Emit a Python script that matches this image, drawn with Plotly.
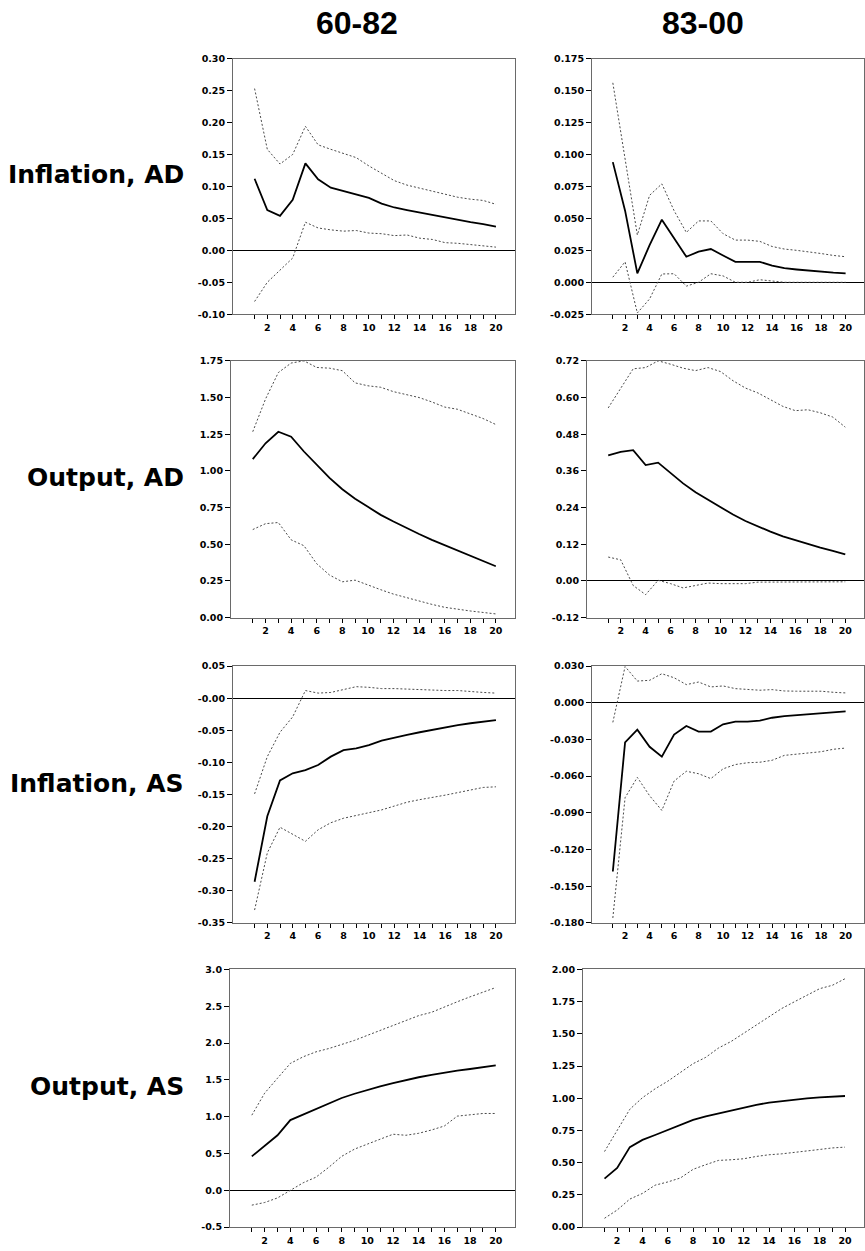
import plotly.graph_objects as go

# ---------------- data ----------------
horizon = list(range(1, 21))

# Inflation, AD
inf_ad_6082_mid = [0.112, 0.063, 0.054, 0.079, 0.136, 0.111, 0.098, 0.093, 0.088, 0.082,
                   0.073, 0.067, 0.063, 0.059, 0.055, 0.051, 0.048, 0.044, 0.041, 0.037]
inf_ad_6082_up = [0.253, 0.158, 0.135, 0.150, 0.194, 0.165, 0.158, 0.152, 0.145, 0.132,
                  0.121, 0.109, 0.102, 0.097, 0.092, 0.087, 0.083, 0.080, 0.078, 0.072]
inf_ad_6082_lo = [-0.080, -0.050, -0.031, -0.012, 0.044, 0.035, 0.032, 0.030, 0.031, 0.027,
                  0.026, 0.023, 0.024, 0.019, 0.017, 0.012, 0.011, 0.009, 0.008, 0.005]

inf_ad_8300_mid = [0.094, 0.056, 0.007, 0.029, 0.049, 0.035, 0.020, 0.024, 0.026, 0.021,
                   0.016, 0.016, 0.016, 0.013, 0.011, 0.010, 0.009, 0.008, 0.0075, 0.007]
inf_ad_8300_up = [0.156, 0.097, 0.037, 0.068, 0.077, 0.056, 0.039, 0.048, 0.048, 0.038,
                  0.033, 0.033, 0.032, 0.028, 0.026, 0.025, 0.024, 0.0225, 0.021, 0.020]
inf_ad_8300_lo = [0.004, 0.016, -0.024, -0.013, 0.0065, 0.0067, -0.003, 0.000, 0.0067, 0.005,
                  0.000, 0.000, 0.002, 0.001, 0.000, 0.000, 0.000, 0.000, 0.000, 0.000]

# Output, AD
out_ad_6082_mid = [1.080, 1.188, 1.267, 1.233, 1.132, 1.042, 0.952, 0.875, 0.810, 0.755,
                   0.700, 0.655, 0.610, 0.570, 0.530, 0.495, 0.460, 0.425, 0.390, 0.350]
out_ad_6082_up = [1.267, 1.490, 1.670, 1.735, 1.750, 1.705, 1.700, 1.683, 1.600, 1.580,
                  1.570, 1.540, 1.520, 1.500, 1.470, 1.435, 1.420, 1.390, 1.357, 1.316]
out_ad_6082_lo = [0.600, 0.640, 0.648, 0.530, 0.490, 0.367, 0.290, 0.244, 0.255, 0.220,
                  0.190, 0.160, 0.135, 0.110, 0.090, 0.070, 0.055, 0.045, 0.035, 0.025]

out_ad_8300_mid = [0.411, 0.422, 0.428, 0.379, 0.387, 0.354, 0.319, 0.290, 0.265, 0.240,
                   0.217, 0.196, 0.178, 0.161, 0.146, 0.133, 0.121, 0.109, 0.098, 0.087]
out_ad_8300_up = [0.566, 0.631, 0.694, 0.698, 0.720, 0.709, 0.696, 0.688, 0.698, 0.685,
                  0.655, 0.631, 0.615, 0.593, 0.571, 0.557, 0.560, 0.550, 0.536, 0.503]
out_ad_8300_lo = [0.078, 0.069, -0.015, -0.045, 0.002, -0.009, -0.023, -0.014, -0.007, -0.009,
                  -0.009, -0.009, -0.004, -0.004, -0.004, -0.004, -0.003, -0.003, -0.003, -0.003]

# Inflation, AS
inf_as_6082_mid = [-0.286, -0.184, -0.128, -0.117, -0.112, -0.104, -0.091, -0.081, -0.078, -0.073,
                   -0.066, -0.061, -0.057, -0.053, -0.049, -0.045, -0.042, -0.039, -0.037, -0.034]
inf_as_6082_up = [-0.149, -0.091, -0.053, -0.029, 0.012, 0.008, 0.009, 0.013, 0.018, 0.017,
                  0.015, 0.015, 0.014, 0.013, 0.013, 0.012, 0.012, 0.010, 0.009, 0.008]
inf_as_6082_lo = [-0.330, -0.241, -0.201, -0.212, -0.223, -0.205, -0.194, -0.187, -0.183, -0.179,
                  -0.174, -0.168, -0.162, -0.158, -0.155, -0.151, -0.147, -0.143, -0.139, -0.138]

inf_as_8300_mid = [-0.138, -0.0324, -0.022, -0.036, -0.044, -0.026, -0.019, -0.0235, -0.0235, -0.0176,
                   -0.0154, -0.0154, -0.0146, -0.0122, -0.0108, -0.010, -0.0092, -0.0084, -0.0076, -0.007]
inf_as_8300_up = [-0.016, 0.0297, 0.0178, 0.0184, 0.0238, 0.0205, 0.0149, 0.017, 0.013, 0.0138,
                  0.0116, 0.0108, 0.0103, 0.0108, 0.0097, 0.0095, 0.0095, 0.0095, 0.0086, 0.0081]
inf_as_8300_lo = [-0.176, -0.0776, -0.061, -0.076, -0.088, -0.064, -0.056, -0.058, -0.062, -0.054,
                  -0.0505, -0.049, -0.0486, -0.047, -0.043, -0.042, -0.041, -0.040, -0.038, -0.037]

# Output, AS
out_as_6082_mid = [0.462, 0.605, 0.748, 0.954, 1.030, 1.111, 1.187, 1.254, 1.312, 1.366,
                   1.411, 1.456, 1.500, 1.536, 1.567, 1.599, 1.626, 1.648, 1.671, 1.697]
out_as_6082_up = [1.021, 1.320, 1.523, 1.724, 1.814, 1.881, 1.926, 1.979, 2.037, 2.105,
                  2.172, 2.239, 2.297, 2.373, 2.418, 2.494, 2.561, 2.628, 2.687, 2.754]
out_as_6082_lo = [-0.201, -0.165, -0.103, 0.000, 0.103, 0.179, 0.314, 0.462, 0.560, 0.628,
                  0.695, 0.762, 0.748, 0.775, 0.820, 0.874, 1.008, 1.030, 1.044, 1.044]

out_as_8300_mid = [0.377, 0.459, 0.621, 0.677, 0.715, 0.756, 0.795, 0.833, 0.859, 0.882,
                   0.908, 0.928, 0.949, 0.967, 0.979, 0.990, 1.000, 1.008, 1.013, 1.018]
out_as_8300_up = [0.587, 0.749, 0.915, 1.005, 1.074, 1.133, 1.203, 1.269, 1.318, 1.390,
                  1.441, 1.505, 1.569, 1.633, 1.697, 1.749, 1.800, 1.851, 1.877, 1.928]
out_as_8300_lo = [0.069, 0.133, 0.218, 0.262, 0.326, 0.351, 0.382, 0.449, 0.485, 0.518,
                  0.523, 0.531, 0.549, 0.562, 0.569, 0.582, 0.595, 0.603, 0.615, 0.621]

# ---------------- tick labels ----------------
x_tick_vals = list(range(1, 21))
x_tick_text = ["", "2", "", "4", "", "6", "", "8", "", "10",
               "", "12", "", "14", "", "16", "", "18", "", "20"]

y1_vals = [-0.10, -0.05, 0.00, 0.05, 0.10, 0.15, 0.20, 0.25, 0.30]
y1_text = ["-0.10", "-0.05", "0.00", "0.05", "0.10", "0.15", "0.20", "0.25", "0.30"]
y2_vals = [-0.025, 0.0, 0.025, 0.05, 0.075, 0.10, 0.125, 0.15, 0.175]
y2_text = ["-0.025", "0.000", "0.025", "0.050", "0.075", "0.100", "0.125", "0.150", "0.175"]
y3_vals = [0.0, 0.25, 0.5, 0.75, 1.0, 1.25, 1.5, 1.75]
y3_text = ["0.00", "0.25", "0.50", "0.75", "1.00", "1.25", "1.50", "1.75"]
y4_vals = [-0.12, 0.0, 0.12, 0.24, 0.36, 0.48, 0.60, 0.72]
y4_text = ["-0.12", "0.00", "0.12", "0.24", "0.36", "0.48", "0.60", "0.72"]
y5_vals = [-0.35, -0.30, -0.25, -0.20, -0.15, -0.10, -0.05, 0.0, 0.05]
y5_text = ["-0.35", "-0.30", "-0.25", "-0.20", "-0.15", "-0.10", "-0.05", "-0.00", "0.05"]
y6_vals = [-0.18, -0.15, -0.12, -0.09, -0.06, -0.03, 0.0, 0.03]
y6_text = ["-0.180", "-0.150", "-0.120", "-0.090", "-0.060", "-0.030", "0.000", "0.030"]
y7_vals = [-0.5, 0.0, 0.5, 1.0, 1.5, 2.0, 2.5, 3.0]
y7_text = ["-0.5", "0.0", "0.5", "1.0", "1.5", "2.0", "2.5", "3.0"]
y8_vals = [0.0, 0.25, 0.5, 0.75, 1.0, 1.25, 1.5, 1.75, 2.0]
y8_text = ["0.00", "0.25", "0.50", "0.75", "1.00", "1.25", "1.50", "1.75", "2.00"]

col_titles = ["60-82", "83-00"]
row_titles = ["Inflation, AD", "Output, AD", "Inflation, AS", "Output, AS"]

# ---------------- layout ----------------
W, H = 865, 1251
panels = [
    (inf_ad_6082_mid, inf_ad_6082_up, inf_ad_6082_lo, y1_vals, y1_text, (233, 515, 53, 311)),
    (inf_ad_8300_mid, inf_ad_8300_up, inf_ad_8300_lo, y2_vals, y2_text, (592, 864, 53, 311)),
    (out_ad_6082_mid, out_ad_6082_up, out_ad_6082_lo, y3_vals, y3_text, (231, 515, 358, 617)),
    (out_ad_8300_mid, out_ad_8300_up, out_ad_8300_lo, y4_vals, y4_text, (587, 864, 358, 617)),
    (inf_as_6082_mid, inf_as_6082_up, inf_as_6082_lo, y5_vals, y5_text, (233, 515, 666, 925)),
    (inf_as_8300_mid, inf_as_8300_up, inf_as_8300_lo, y6_vals, y6_text, (592, 864, 666, 925)),
    (out_as_6082_mid, out_as_6082_up, out_as_6082_lo, y7_vals, y7_text, (230, 515, 972, 1232)),
    (out_as_8300_mid, out_as_8300_up, out_as_8300_lo, y8_vals, y8_text, (583, 864, 972, 1232)),
]

tick_font = dict(family="DejaVu Sans", size=9.5, color="black", weight="bold")
frame_col = "#6a6a6a"
band_style = dict(color="#4a4a4a", width=1, dash="2px,2px")
mid_style = dict(color="black", width=1.8)

fig = go.Figure()
layout_axes = {}
for i, (mid, up, lo, yv, yt, (L, R, T, B)) in enumerate(panels, start=1):
    xa = "x" if i == 1 else f"x{i}"
    ya = "y" if i == 1 else f"y{i}"
    for series, style in ((up, band_style), (lo, band_style), (mid, mid_style)):
        fig.add_trace(go.Scatter(x=horizon, y=series, mode="lines", line=style,
                                 xaxis=xa, yaxis=ya, showlegend=False, hoverinfo="skip"))
    xkey = "xaxis" if i == 1 else f"xaxis{i}"
    ykey = "yaxis" if i == 1 else f"yaxis{i}"
    layout_axes[xkey] = dict(
        domain=[L / W, R / W], range=[-0.7, 21.5], anchor=ya,
        tickvals=x_tick_vals, ticktext=x_tick_text, ticks="outside", ticklen=4,
        tickcolor="black", tickwidth=1, tickfont=tick_font,
        showline=True, linecolor=frame_col, linewidth=1, mirror=True,
        showgrid=False, zeroline=False, fixedrange=True)
    layout_axes[ykey] = dict(
        domain=[1 - B / H, 1 - T / H], range=[yv[0], yv[-1]], anchor=xa,
        tickvals=yv, ticktext=yt, ticks="outside", ticklen=5,
        tickcolor="black", tickwidth=1, tickfont=tick_font,
        showline=True, linecolor=frame_col, linewidth=1, mirror=True,
        showgrid=False, zeroline=True, zerolinecolor="black", zerolinewidth=1,
        fixedrange=True)

annotations = []
for txt, cx in zip(col_titles, (357, 703)):
    annotations.append(dict(text=txt, x=cx / W, y=1 - 17 / H, xref="paper", yref="paper",
                            xanchor="center", yanchor="middle", showarrow=False,
                            font=dict(family="Liberation Sans", size=32, color="black",
                                      weight="bold")))
for txt, cy in zip(row_titles, (170, 476, 784, 1090)):
    annotations.append(dict(text=txt, x=186 / W, y=1 - cy / H, xref="paper", yref="paper",
                            xanchor="right", yanchor="middle", showarrow=False,
                            font=dict(family="DejaVu Sans", size=25, color="black",
                                      weight="bold")))

fig.update_layout(
    width=W, height=H, margin=dict(l=0, r=0, t=0, b=0),
    paper_bgcolor="white", plot_bgcolor="white",
    annotations=annotations, **layout_axes)

fig.write_html("out.html")
